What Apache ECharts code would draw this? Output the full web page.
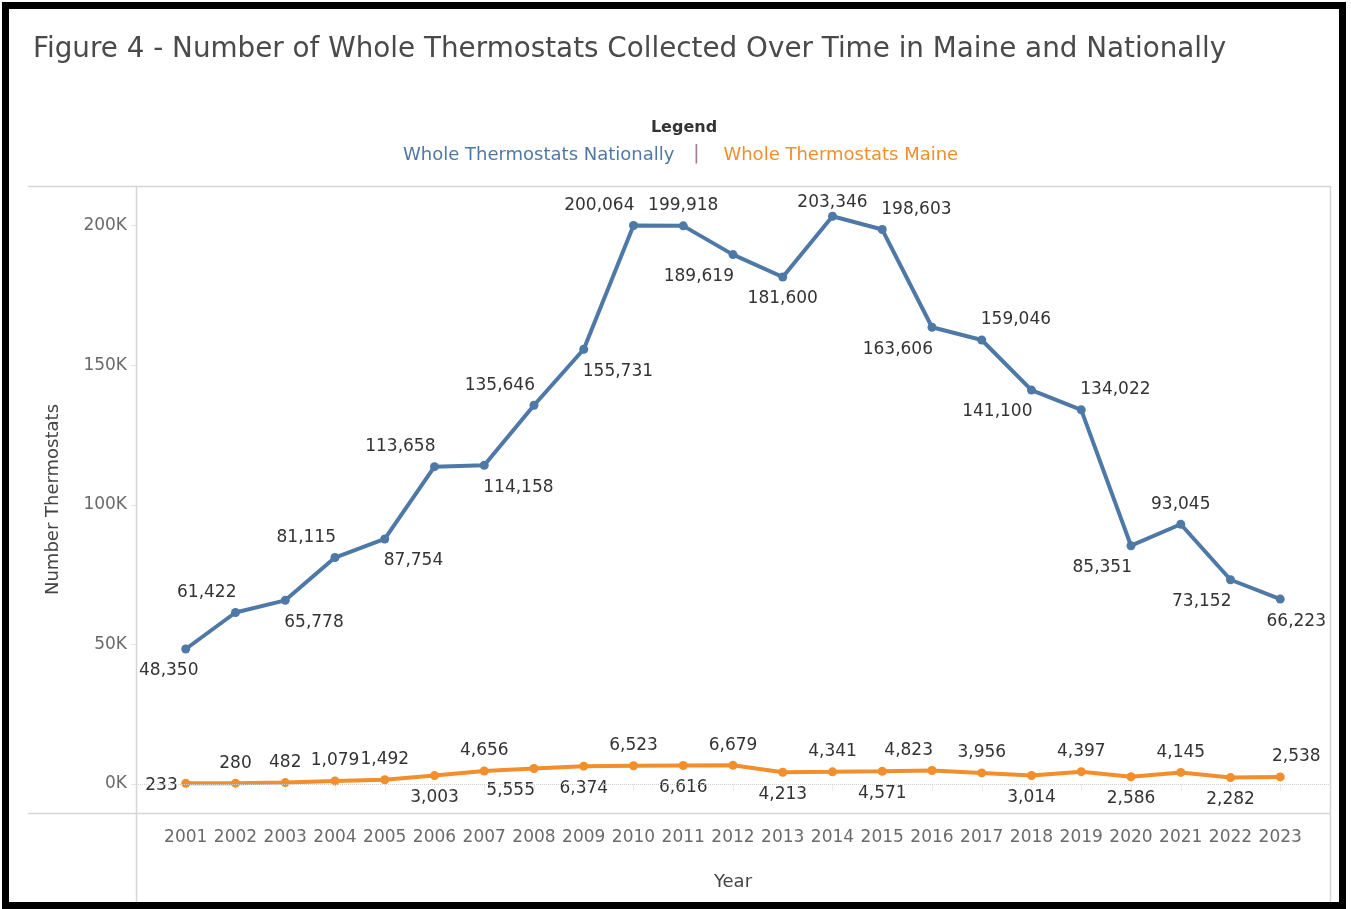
<!DOCTYPE html>
<html lang="en">
  <head>
    <meta charset="UTF-8" />
    <title>Figure 4 - Whole Thermostats Collected</title>
    <script src="https://cdn.jsdelivr.net/npm/echarts@6/dist/echarts.min.js"></script>
    <style>
      html, body { margin: 0; padding: 0; background: #fff; }
      #app { width: 1351px; height: 909px; }
    </style>
  </head>
  <body>
    <div id="app"></div>
    <script>
      const years = [2001, 2002, 2003, 2004, 2005, 2006, 2007, 2008, 2009, 2010, 2011, 2012,
        2013, 2014, 2015, 2016, 2017, 2018, 2019, 2020, 2021, 2022, 2023];
      const national = [48350, 61422, 65778, 81115, 87754, 113658, 114158, 135646, 155731, 200064,
        199918, 189619, 181600, 203346, 198603, 163606, 159046, 141100, 134022, 85351, 93045, 73152, 66223];
      const maine = [233, 280, 482, 1079, 1492, 3003, 4656, 5555, 6374, 6523, 6616, 6679,
        4213, 4341, 4571, 4823, 3956, 3014, 4397, 2586, 4145, 2282, 2538];
      const yTicks = [0, 50000, 100000, 150000, 200000];

      // where each value label sits relative to its point (t/b = above/below, l/r = side)
      const nationalPlace = ['b:-17', 'tl', 'br', 'tl', 'br', 'tl', 'br', 'tl', 'br', 'tl', 't', 'bl',
        'b', 't:0:-14', 'tr', 'bl', 'tr', 'bl', 'tr', 'bl', 't', 'bl', 'b:16'];
      const mainePlace = ['l', 't', 't', 't', 't', 'b', 't', 'bl', 'b', 't', 'b', 't',
        'b', 't', 'b', 'tl', 't', 'b', 't', 'b', 't', 'b', 't:16'];

      const BLUE = '#4e79a7';
      const ORANGE = '#f28e2b';
      const FONT = 'DejaVu Sans';
      const SYM = 9;
      const fmt = v => v.toLocaleString('en-US');

      function labelFor(code) {
        const [p, dx, dy] = code.split(':');
        const lab = { verticalAlign: 'middle', align: 'center' };
        let ox = 0, oy = 0;
        if (p[0] === 't') oy = -20;
        if (p[0] === 'b') oy = 22;
        if (p === 'tl' || p === 'bl') { lab.align = 'right'; ox = 1; }
        if (p === 'tr' || p === 'br') { lab.align = 'left'; ox = -1; }
        if (p === 'l') { lab.align = 'right'; ox = -8; oy = 2; }
        ox += Number(dx || 0);
        if (dy !== undefined) oy = Number(dy);
        lab.position = [SYM / 2 + ox, SYM / 2 + oy];
        return lab;
      }

      function build(values, places) {
        return values.map((v, i) => ({ value: [years[i], v], label: labelFor(places[i]) }));
      }

      const chart = echarts.init(document.getElementById('app'));

      const frame = '#d6d6d6';
      chart.setOption({
        animation: false,
        textStyle: { fontFamily: FONT },
        title: [
          {
            text: 'Figure 4 - Number of Whole Thermostats Collected Over Time in Maine and Nationally',
            left: 28, top: 31,
            textStyle: { fontFamily: FONT, fontSize: 27.8, fontWeight: 'normal', color: '#4a4a4a' }
          },
          {
            text: 'Legend',
            left: 679, top: 115, textAlign: 'center',
            textStyle: { fontFamily: FONT, fontSize: 16, fontWeight: 'bold', color: '#333' }
          }
        ],
        legend: {
          left: 393, top: 141,
          icon: 'none', itemWidth: 0, itemHeight: 10, itemGap: 44,
          selectedMode: false,
          textStyle: { fontFamily: FONT, fontSize: 18 },
          data: [
            { name: 'Whole Thermostats Nationally', textStyle: { color: BLUE } },
            { name: 'Whole Thermostats Maine', textStyle: { color: ORANGE } }
          ]
        },
        grid: { left: 136, right: 21, top: 186, bottom: 96, containLabel: false },
        xAxis: {
          type: 'value', min: 2000, max: 2024,
          name: 'Year', nameLocation: 'middle', nameGap: 60,
          nameTextStyle: { fontFamily: FONT, fontSize: 18, color: '#444' },
          axisLine: { show: false },
          splitLine: { show: false },
          axisTick: { show: true, customValues: years, length: 7, lineStyle: { color: '#ececec' } },
          axisLabel: {
            customValues: years, formatter: v => String(v), margin: 16,
            fontFamily: FONT, fontSize: 17, color: '#6a6a6a'
          }
        },
        yAxis: {
          type: 'value', min: -10400, max: 214200,
          name: 'Number Thermostats', nameLocation: 'middle', nameGap: 74, nameRotate: 90,
          nameTextStyle: { fontFamily: FONT, fontSize: 18, color: '#444' },
          axisLine: { show: false },
          splitLine: { show: false },
          axisTick: { show: true, customValues: yTicks, length: 5, lineStyle: { color: '#e4e4e4' } },
          axisLabel: {
            customValues: yTicks, formatter: v => (v / 1000) + 'K', margin: 9,
            fontFamily: FONT, fontSize: 17, color: '#6a6a6a'
          }
        },
        series: [
          {
            name: 'Whole Thermostats Maine', type: 'line',
            data: build(maine, mainePlace),
            symbol: 'circle', symbolSize: SYM,
            itemStyle: { color: ORANGE }, lineStyle: { color: ORANGE, width: 4 },
            label: { show: true, formatter: p => fmt(p.value[1]), fontFamily: FONT, fontSize: 17, color: '#333' },
            labelLayout: { hideOverlap: false },
            markLine: {
              silent: true, symbol: 'none', label: { show: false },
              lineStyle: { type: 'dotted', color: '#cfcfcf', width: 1 },
              data: [{ yAxis: 0 }]
            }
          },
          {
            name: 'Whole Thermostats Nationally', type: 'line',
            data: build(national, nationalPlace),
            symbol: 'circle', symbolSize: SYM,
            itemStyle: { color: BLUE }, lineStyle: { color: BLUE, width: 4 },
            label: { show: true, formatter: p => fmt(p.value[1]), fontFamily: FONT, fontSize: 17, color: '#333' },
            labelLayout: { hideOverlap: false }
          }
        ],
        graphic: [
          { type: 'line', shape: { x1: 28, y1: 186.5, x2: 1330, y2: 186.5 }, style: { stroke: frame, lineWidth: 1.5 }, silent: true },
          { type: 'line', shape: { x1: 28, y1: 813.5, x2: 1330, y2: 813.5 }, style: { stroke: frame, lineWidth: 1.5 }, silent: true },
          { type: 'line', shape: { x1: 136.5, y1: 186, x2: 136.5, y2: 902 }, style: { stroke: frame, lineWidth: 1.5 }, silent: true },
          { type: 'line', shape: { x1: 1330.5, y1: 186, x2: 1330.5, y2: 902 }, style: { stroke: frame, lineWidth: 1.5 }, silent: true },
          {
            type: 'text', left: 693, top: 144, silent: true,
            style: { text: '|', fontFamily: FONT, fontSize: 20, fill: '#a47d93' }
          },
          {
            type: 'rect', shape: { x: 5.5, y: 5.5, width: 1337, height: 900 },
            style: { fill: 'none', stroke: '#000', lineWidth: 7 }, silent: true, z: 100
          }
        ]
      });
    </script>
  </body>
</html>
